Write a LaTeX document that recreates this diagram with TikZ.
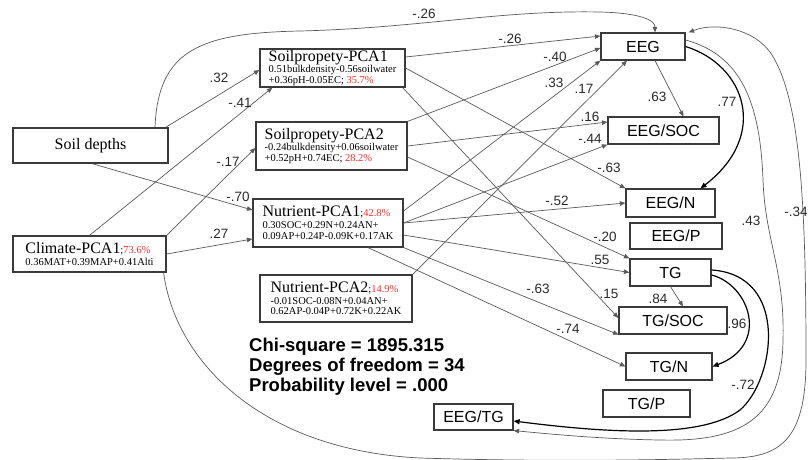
\documentclass[tikz,border=0pt]{standalone}
\usepackage{fontspec}
\setmainfont{Liberation Serif}
\setsansfont{Liberation Sans}
\usetikzlibrary{arrows.meta}
\definecolor{boxc}{HTML}{3A3A3A}
\definecolor{edgec}{HTML}{5A5A5A}
\definecolor{labc}{HTML}{2A2A2A}
\definecolor{pctred}{HTML}{FF2A2A}
\newcommand{\titlef}{\fontsize{16}{16}\selectfont}
\begin{document}
\begin{tikzpicture}[x=1pt,y=-1pt,
  lbox/.style={draw=boxc, line width=1.2pt, inner sep=0pt, align=left,
    font=\fontsize{10.5}{10.5}\selectfont},
  rbox/.style={draw=boxc, line width=1.2pt, inner sep=0pt,
    font=\sffamily\fontsize{16}{16}\selectfont},
  edge/.style={draw=edgec, line width=0.7pt, -{Triangle[length=5.5pt,width=4.5pt]}},
  tedge/.style={draw=black, line width=1.2pt, -{Triangle[length=6pt,width=5pt]}},
  lab/.style={font=\sffamily\fontsize{13.5}{13.5}\selectfont, text=labc, inner sep=0pt},
  stat/.style={font=\sffamily\bfseries\fontsize{18.5}{20}\selectfont, inner sep=0pt, align=left, text=black}
]
\useasboundingbox[fill=white] (0,0) rectangle (808,460);

% ---------- left boxes ----------
\node[lbox, font=\fontsize{16}{16}\selectfont, minimum width=155pt, minimum height=35pt] (sd) at (90.5,145.5) {Soil depths};
\node[lbox, minimum width=145pt, minimum height=38pt] (sp1) at (332.5,68)
  {{\titlef Soilpropety-PCA1}\\[-0.6pt]0.51bulkdensity-0.56soilwater\\{+0.36pH-0.05EC; \textcolor{pctred}{35.7\%}}};
\node[lbox, minimum width=151pt, minimum height=48pt] (sp2) at (331.5,146)
  {{\titlef Soilpropety-PCA2}\\[-0.6pt]-0.24bulkdensity+0.06soilwater\\[0.5pt]{+0.52pH+0.74EC; \textcolor{pctred}{28.2\%}}};
\node[lbox, minimum width=153pt, minimum height=36pt] (cl) at (89.5,254)
  {{\titlef Climate-PCA1};\textcolor{pctred}{73.6\%}\\[1.5pt]0.36MAT+0.39MAP+0.41Alti};
\node[lbox, minimum width=150pt, minimum height=48pt] (np1) at (328,223)
  {{\titlef Nutrient-PCA1};\textcolor{pctred}{42.8\%}\\[1.5pt]0.30SOC+0.29N+0.24AN+\\[0.5pt]0.09AP+0.24P-0.09K+0.17AK};
\node[lbox, minimum width=152pt, minimum height=47pt] (np2) at (336,298.5)
  {{\titlef Nutrient-PCA2};\textcolor{pctred}{14.9\%}\\[1.5pt]-0.01SOC-0.08N+0.04AN+\\0.62AP-0.04P+0.72K+0.22AK};

% ---------- right boxes ----------
\node[rbox, minimum width=84pt, minimum height=27pt] (eeg) at (643,46.5) {EEG};
\node[rbox, minimum width=111pt, minimum height=27pt] (eegsoc) at (663.5,130.5) {EEG/SOC};
\node[rbox, minimum width=89pt, minimum height=28pt] (eegn) at (670.5,203) {EEG/N};
\node[rbox, minimum width=92pt, minimum height=26pt] (eegp) at (676,236) {EEG/P};
\node[rbox, minimum width=81pt, minimum height=27pt] (tg) at (670.5,272.5) {TG};
\node[rbox, minimum width=108pt, minimum height=27pt] (tgsoc) at (673,320.5) {TG/SOC};
\node[rbox, minimum width=86pt, minimum height=27pt] (tgn) at (669,366.5) {TG/N};
\node[rbox, minimum width=87pt, minimum height=27pt] (tgp) at (646.5,403.5) {TG/P};
\node[rbox, minimum width=79pt, minimum height=26pt] (eegtg) at (473.5,417) {EEG/TG};

% ---------- statistics ----------
\node[stat, anchor=north west] (stats) at (249,337.5)
  {Chi-square = 1895.315\\Degrees of freedom = 34\\Probability level = .000};

% ---------- connectors ----------
\draw[edge] ([xshift=64.5pt]sd.north) .. controls (158,50) and (200,33) .. (300,31)
  .. controls (420,28) and (500,10) .. (600,12) .. controls (640,13) and (655,20) .. ([xshift=12pt]eeg.north);
\draw[edge] ([yshift=11pt]sp1.east) -- ([yshift=10.5pt]eeg.west);
\draw[edge] (sp2.north east) -- ([yshift=-1.5pt]eeg.west);
\draw[edge] ([yshift=12pt]np1.east) -- (eeg.south west);
\draw[edge] (np2.north east) -- ([xshift=-16pt]eeg.south);
\draw[edge] (sp2.east) -- ([yshift=8.5pt]eegsoc.west);
\draw[edge] (np1.east) -- (eegsoc.south west);
\draw[edge] (sp1.east) -- (eegn.north west);
\draw[edge] ([xshift=-3pt]sp1.south east) -- ([yshift=2.5pt]tgsoc.west);
\draw[edge] ([yshift=-11pt]sp2.east) -- (tg.north west);
\draw[edge] (np1.east) -- (eegn.west);
\draw[edge] ([yshift=-12pt]np1.east) -- (tg.west);
\draw[edge] (np1.south east) -- (tgsoc.south west);
\draw[edge] ([xshift=40pt]np1.south) -- (tgn.west);
\draw[edge] ([xshift=12pt]eeg.south) -- ([xshift=20pt]eegsoc.north);
\draw[tedge] (eeg.east) .. controls (745,65) and (770,135) .. ([xshift=30pt]eegn.north);
\draw[edge] (tg.south) -- ([xshift=10pt]tgsoc.north);
\draw[tedge] ([yshift=-2.5pt]tg.east) .. controls (750,285) and (770,345) .. (tgn.east);
\draw[tedge] ([yshift=2.5pt]tg.east) .. controls (790,275) and (775,380) .. (740,410)
  .. controls (700,440) and (600,432) .. ([yshift=-4pt]eegtg.east);
\draw[edge] ([yshift=6.5pt]eeg.east) .. controls (740,55) and (760,100) .. (763,180)
  .. controls (765,240) and (785,270) .. (783,340) .. controls (782,420) and (740,442) .. (660,440)
  .. controls (600,439) and (550,434) .. (eegtg.south east);
\draw[edge] ([xshift=-3pt]cl.south east) .. controls (175,360) and (260,450) .. (420,458)
  .. controls (550,462) and (650,460) .. (730,458) .. controls (780,458) and (806,440) .. (806,360)
  .. controls (806,200) and (800,100) .. (772,55) .. controls (755,28) and (715,22) .. ([xshift=3pt]eeg.north east);
\draw[edge] ([xshift=-3pt]sd.north east) -- ([yshift=-2pt]sp1.west);
\draw[edge] (cl.north) -- ([xshift=13pt]sp1.south west);
\draw[edge] (cl.north east) -- ([yshift=-2pt]sp2.west);
\draw[edge] ([xshift=1.5pt]sd.south) -- ([yshift=13pt]np1.west);
\draw[edge] (cl.east) -- ([yshift=-16pt]np1.west);

% ---------- labels ----------
\node[lab] (l1) at (424,14) {-.26};
\node[lab] (l2) at (510,39) {-.26};
\node[lab] (l3) at (555,57) {-.40};
\node[lab] (l4) at (554,83) {.33};
\node[lab] (l5) at (584,89) {.17};
\node[lab] (l6) at (590,117) {.16};
\node[lab] (l7) at (590,139) {-.44};
\node[lab] (l8) at (609,168) {-.63};
\node[lab] (l9) at (609,294) {.15};
\node[lab] (l10) at (605,237) {-.20};
\node[lab] (l11) at (557,201) {-.52};
\node[lab] (l12) at (600,260) {.55};
\node[lab] (l13) at (538,289) {-.63};
\node[lab] (l14) at (568,329) {-.74};
\node[lab] (l15) at (657,97) {.63};
\node[lab] (l16) at (727,102) {.77};
\node[lab] (l17) at (658,299) {.84};
\node[lab] (l18) at (737,324) {.96};
\node[lab] (l19) at (743,385) {-.72};
\node[lab] (l20) at (751,221) {.43};
\node[lab] (l21) at (796,212) {-.34};
\node[lab] (l22) at (219,78) {.32};
\node[lab] (l23) at (240,103) {-.41};
\node[lab] (l24) at (228,162) {-.17};
\node[lab] (l25) at (238,197) {-.70};
\node[lab] (l26) at (219,234) {.27};
\end{tikzpicture}
\end{document}
